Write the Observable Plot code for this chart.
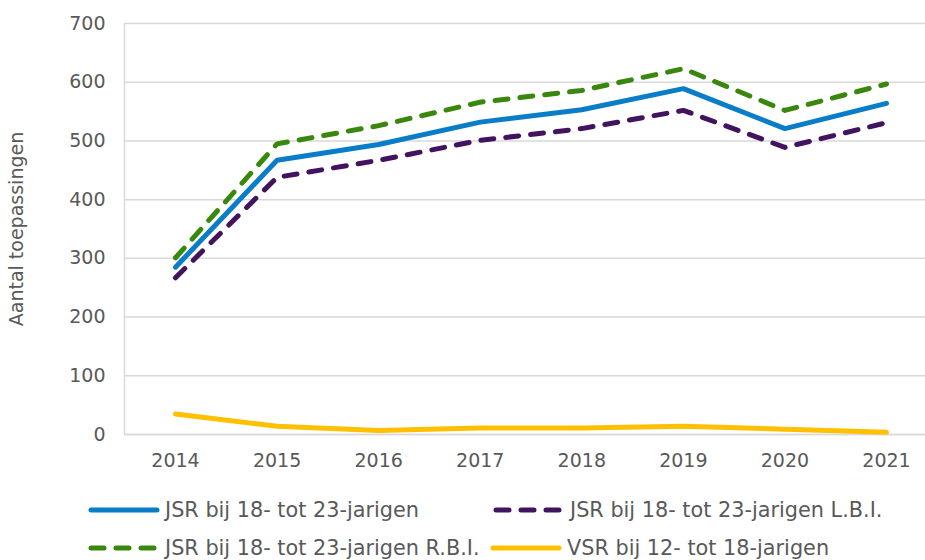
<!DOCTYPE html>
<html>
<head>
<meta charset="utf-8">
<script src="https://cdn.jsdelivr.net/npm/d3@7"></script>
<script src="https://cdn.jsdelivr.net/npm/@observablehq/plot@0.6"></script>
<style>
  body { margin: 0; background: #fff; font-family: "DejaVu Sans", Verdana, sans-serif; color: #595959; }
  #wrap { position: relative; width: 925px; height: 560px; }
  .legend { position: absolute; left: 0; top: 488px; width: 925px; height: 72px; }
  .item { position: absolute; display: flex; align-items: center; font-size: 20.8px; color: #595959; white-space: nowrap; }
  .item svg { margin-right: 5px; }
</style>
</head>
<body>
<div id="wrap"></div>
<script>
const years = [2014, 2015, 2016, 2017, 2018, 2019, 2020, 2021];
const seriesNames = [
  "JSR bij 18- tot 23-jarigen",
  "JSR bij 18- tot 23-jarigen L.B.I.",
  "JSR bij 18- tot 23-jarigen R.B.I.",
  "VSR bij 12- tot 18-jarigen"
];
const jsr    = [285, 467, 494, 532, 553, 589, 521, 564];
const jsrLBI = [267, 438, 467, 501, 521, 552, 489, 531];
const jsrRBI = [301, 495, 526, 566, 586, 623, 552, 597];
const vsr    = [35, 14, 7, 11, 11, 14, 9, 4];
const yTicks = [0, 100, 200, 300, 400, 500, 600, 700];

const colors = ["#0a7dc8", "#42145f", "#39870c", "#ffc000"];
const dashes = [null, "13,12", "13,12", null];
const values = [jsr, jsrLBI, jsrRBI, vsr];

const data = values.map((vals, i) => years.map((yr, j) => ({ year: yr, value: vals[j], series: seriesNames[i] })));

const gridColor = "#d9d9d9";

const chart = Plot.plot({
  width: 925,
  height: 488,
  marginLeft: 124,
  marginRight: 0,
  marginTop: 23,
  marginBottom: 54,
  style: { fontFamily: "DejaVu Sans, Verdana, sans-serif", fontSize: "19px", color: "#595959", background: "#fff", overflow: "visible" },
  x: { type: "linear", domain: [2014, 2021], range: [175, 886] },
  y: { domain: [0, 700] },
  marks: [
    Plot.gridY(yTicks, { stroke: gridColor, strokeOpacity: 1, strokeWidth: 1.5 }),
    Plot.frame({ anchor: "left", stroke: gridColor, strokeWidth: 1.5 }),
    Plot.ruleY([0], { stroke: gridColor, strokeWidth: 1.5 }),
    Plot.axisY({ ticks: yTicks, tickSize: 0, tickPadding: 19, label: "Aantal toepassingen", labelAnchor: "center", labelArrow: "none", labelOffset: 115, fontSize: 19 }),
    Plot.axisX({ ticks: years, tickSize: 0, tickPadding: 19, tickFormat: d => String(d), label: null, fontSize: 19 }),
    ...data.map((d, i) => Plot.line(d, {
      x: "year", y: "value",
      stroke: colors[i], strokeWidth: 5,
      strokeDasharray: dashes[i] || undefined,
      strokeLinecap: "round", strokeLinejoin: "round"
    }))
  ]
});

const wrap = document.getElementById("wrap");
wrap.appendChild(chart);

const legend = document.createElement("div");
legend.className = "legend";
const pos = [[88, 22], [493, 22], [88, 60], [490, 60]];
seriesNames.forEach((name, i) => {
  const it = document.createElement("div");
  it.className = "item";
  it.style.left = pos[i][0] + "px";
  it.style.top = (pos[i][1] - 13) + "px";
  it.style.height = "26px";
  const w = 72;
  const dash = dashes[i] ? `stroke-dasharray="13,12"` : "";
  it.innerHTML = `<svg width="${w}" height="10"><line x1="3" y1="5" x2="${w - 3}" y2="5" stroke="${colors[i]}" stroke-width="5" stroke-linecap="round" ${dash}/></svg><span>${name}</span>`;
  legend.appendChild(it);
});
wrap.appendChild(legend);
</script>
</body>
</html>
